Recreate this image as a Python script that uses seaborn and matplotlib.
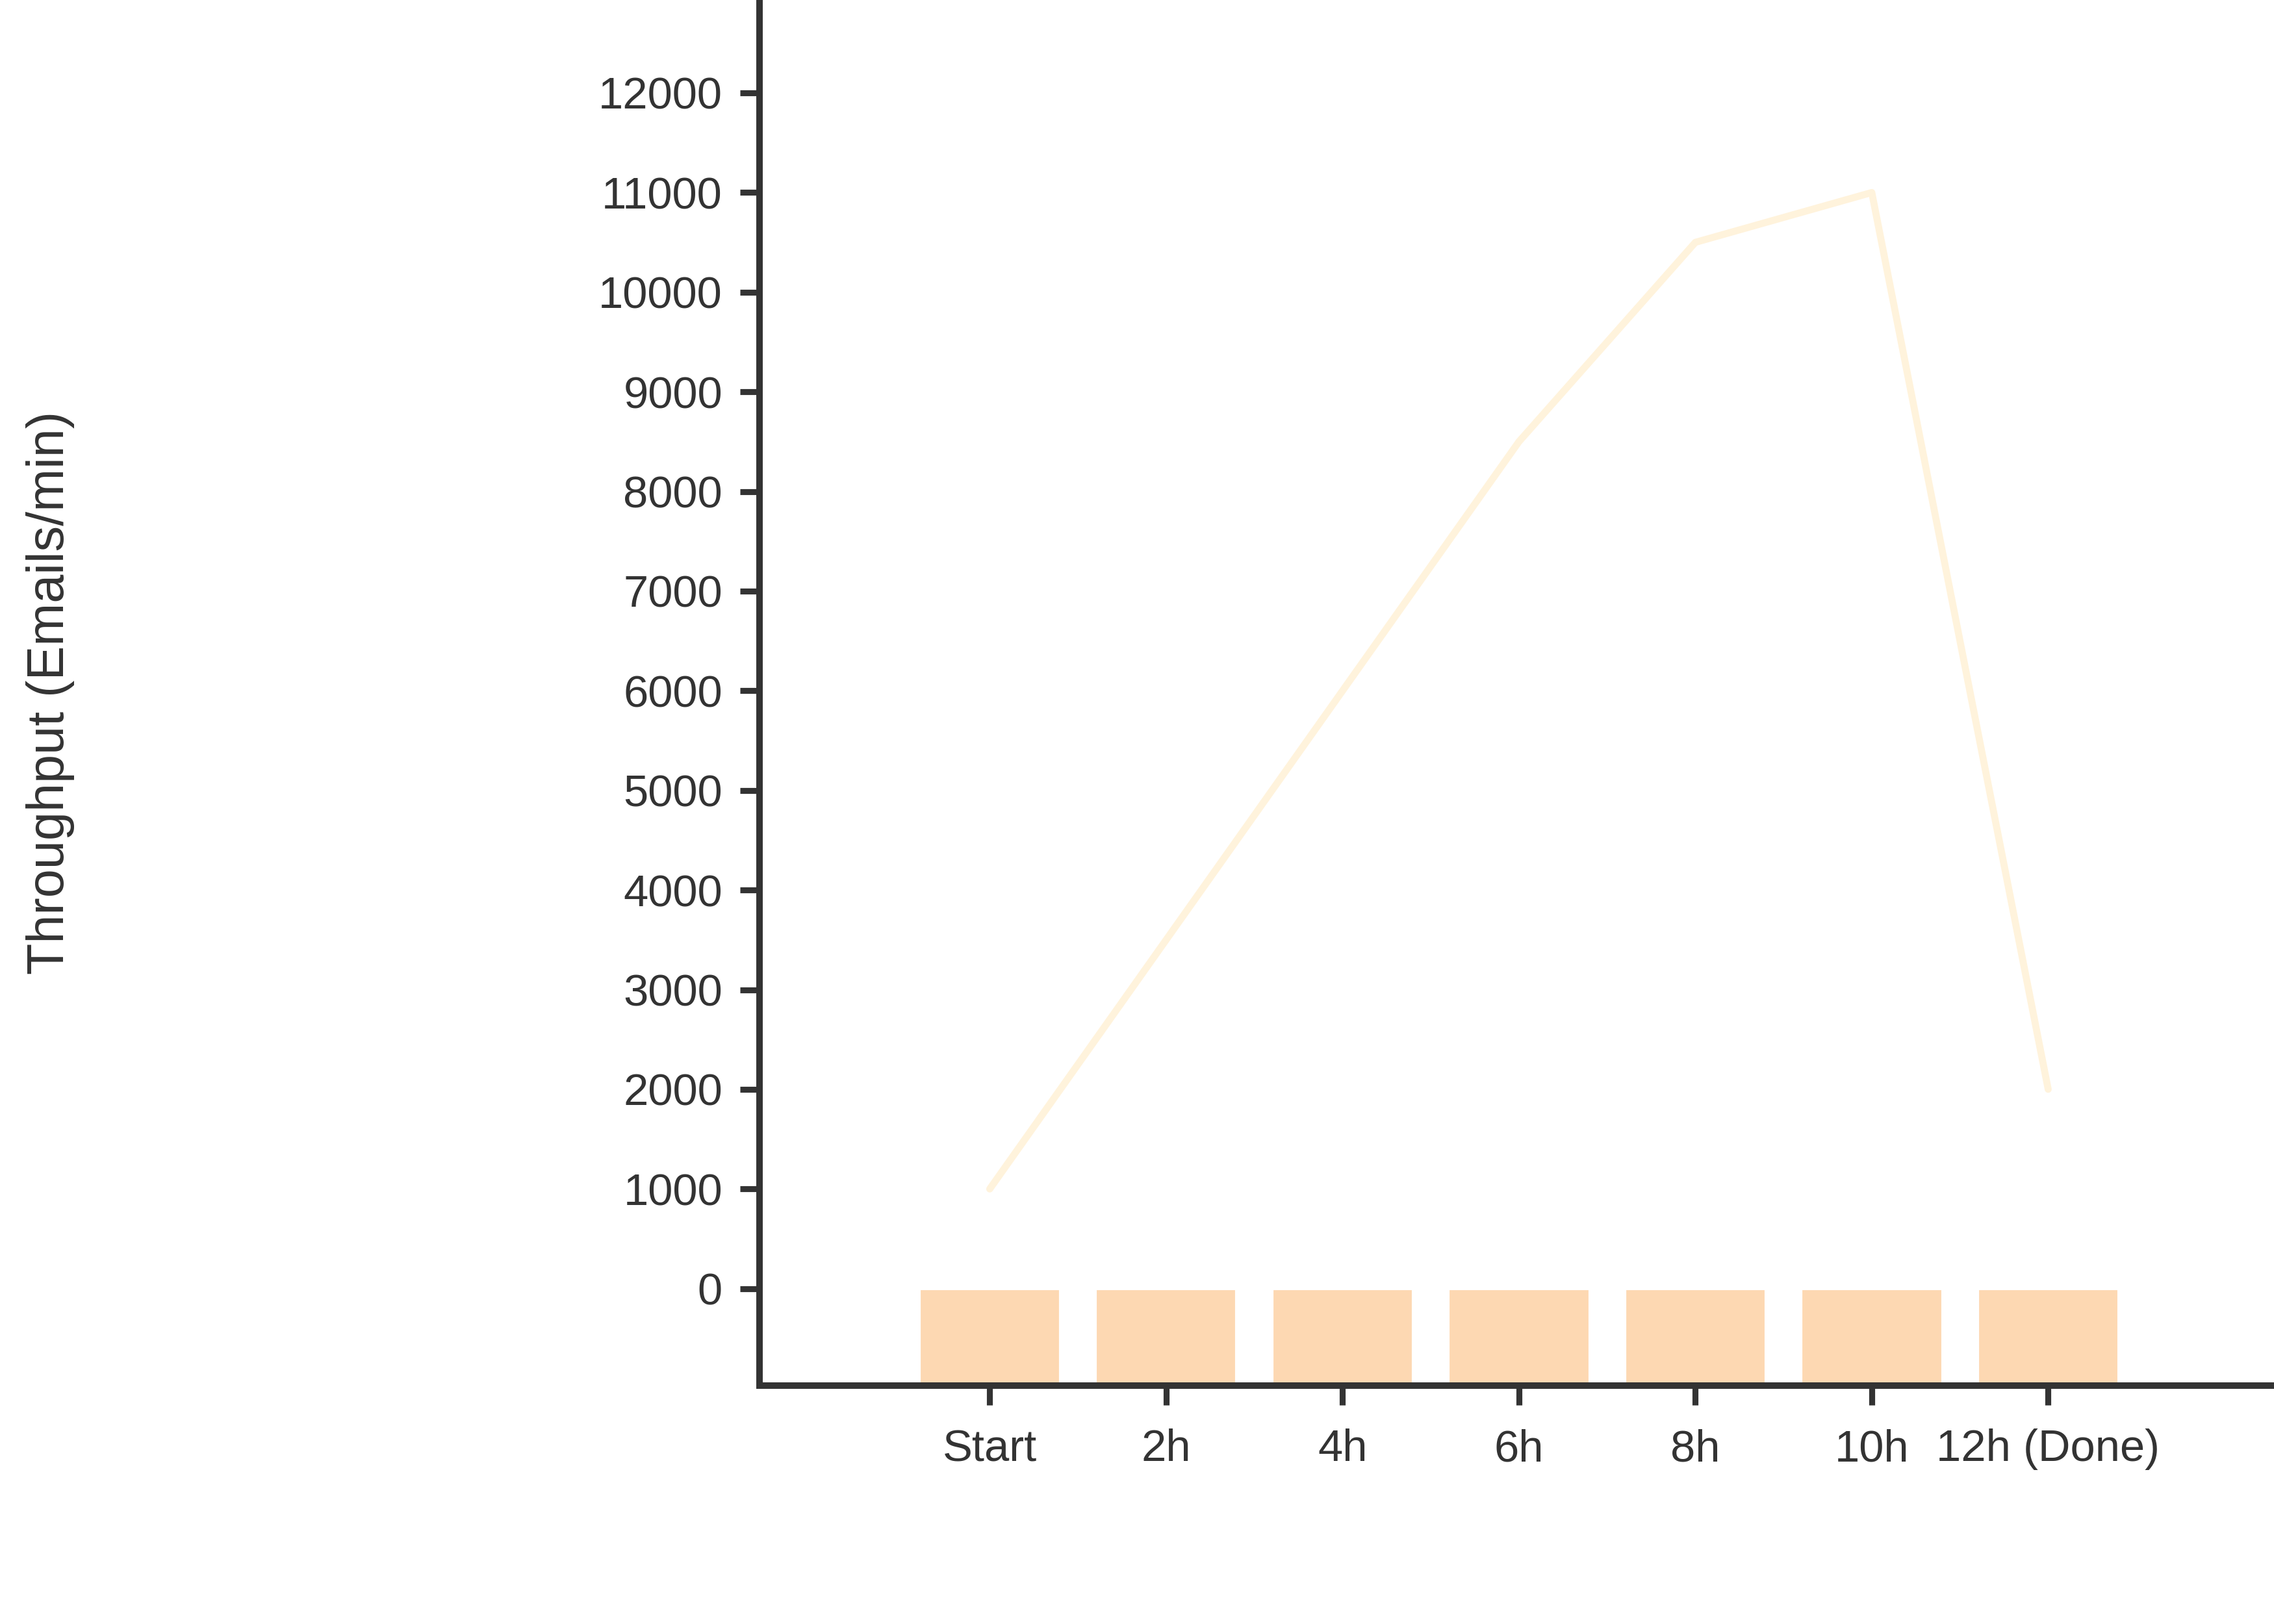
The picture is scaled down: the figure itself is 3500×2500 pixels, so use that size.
import numpy as np
import pandas as pd
import matplotlib
matplotlib.use("Agg")
import matplotlib.pyplot as plt
import seaborn as sns

# ---- data ----
time_labels = ["Start", "2h", "4h", "6h", "8h", "10h", "12h (Done)"]
throughput = [1000, 3500, 6000, 8500, 10500, 11000, 2000]
bar_values = [-1000, -1000, -1000, -1000, -1000, -1000, -1000]

y_ticks = [0, 1000, 2000, 3000, 4000, 5000, 6000, 7000, 8000, 9000,
           10000, 11000, 12000]

INK = "#333333"
BAR_COLOR = "#FDD8B2"
LINE_COLOR = "#FFF3DC"

sns.set_style("ticks")
plt.rcParams['font.family'] = ['Liberation Sans', 'DejaVu Sans']
plt.rcParams['text.color'] = INK
plt.rcParams['axes.labelcolor'] = INK

df = pd.DataFrame({"time": time_labels, "throughput": throughput, "bars": bar_values})

fig = plt.figure(figsize=(3500 / 300, 2500 / 300), dpi=300)
ax = fig.add_axes([0.334, 0.147, 0.666, 0.853])

sns.barplot(data=df, x="time", y="bars", color=BAR_COLOR, saturation=1,
            width=0.8, ax=ax)
sns.pointplot(data=df, x="time", y="throughput", color=LINE_COLOR,
              marker="", linewidth=2.6, ax=ax)

ax.set_xlim(-1.305, 7.28)
ax.set_ylim(-970, 12932)
ax.set_yticks(y_ticks)
ax.set_yticklabels([str(v) for v in y_ticks])

ax.set_xlabel("")
ax.set_ylabel("Throughput (Emails/min)", fontsize=19, color=INK)
ax.yaxis.set_label_coords(-0.452, 0.5)

for side in ["top", "right"]:
    ax.spines[side].set_visible(False)
for side in ["left", "bottom"]:
    ax.spines[side].set_linewidth(2.4)
    ax.spines[side].set_color(INK)

ax.tick_params(axis="both", length=7.2, width=2.2, color=INK,
               labelsize=16.5, labelcolor=INK)
ax.tick_params(axis="y", pad=6.5)
ax.tick_params(axis="x", pad=8.8)

fig.savefig("out.png", dpi=300)
